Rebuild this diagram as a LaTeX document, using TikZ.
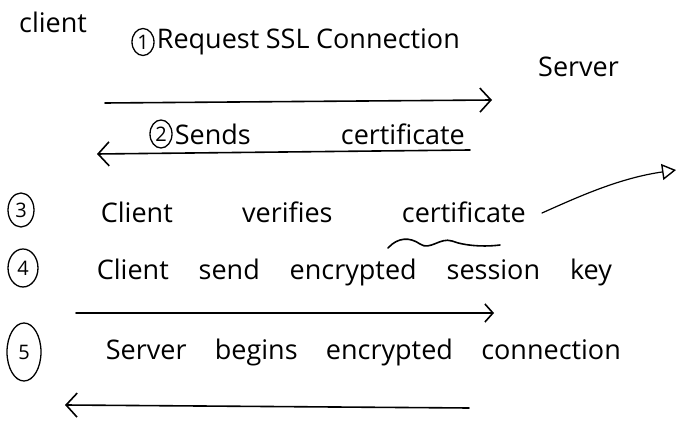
\documentclass[tikz,border=0pt]{standalone}
\usepackage{fontspec}
\setmainfont{Open Sans}
\usetikzlibrary{positioning}
\usetikzlibrary{arrows.meta}
\usetikzlibrary{shapes.geometric}

% spread the words of a step over a given width
\newcommand{\spread}[2]{\makebox[#1][s]{#2}}

\begin{document}
\begin{tikzpicture}
	[x=1pt,y=-1pt,
	num/.style={ellipse,draw=black,line width=1.3pt,inner sep=0pt,font=\fontsize{20}{22}\selectfont},
	words/.style={inner sep=0pt,anchor=west,font=\fontsize{27}{30}\selectfont},
	party/.style={inner sep=0pt,font=\fontsize{27}{30}\selectfont},
	link/.style={draw=black,line width=1.6pt,line cap=round},
	head/.style={-{Straight Barb[length=11pt,width=24pt,line width=1.6pt]}}]

	\useasboundingbox (0,0) rectangle (678,427);

	% Draw the two parties
	\draw node at (19,22) [party,anchor=west](client){client}
		node at (538,67) [party,anchor=west](server){Server};

	% Draw the step numbers
	\draw node at (143,42) [num,minimum width=22pt,minimum height=27pt](num1){1}
		node at (161,134) [num,minimum width=22pt,minimum height=28pt](num2){2}
		node at (21,210) [num,minimum width=26pt,minimum height=34pt](num3){3}
		node at (23,268) [num,minimum width=30pt,minimum height=38pt](num4){4}
		node at (24,352) [num,minimum width=34pt,minimum height=58pt](num5){5};

	% Draw the step texts
	\draw node [words,right=2pt of num1](step1){\spread{303pt}{Request SSL Connection}}
		node [words,right=2pt of num2](step2){\spread{290pt}{Sends certificate}}
		node [words,right=66pt of num3,yshift=-2pt](step3){\spread{425pt}{Client verifies certificate}}
		node [words,right=58pt of num4,yshift=-4pt](step4){\spread{515pt}{Client send encrypted session key}}
		node [words,right=64pt of num5](step5){\spread{515pt}{Server begins encrypted connection}};

	% Ends of the arrows
	\coordinate (a1) at (105,103);
	\coordinate (b1) at (492,100);
	\coordinate (a2) at (470,150);
	\coordinate (b2) at (97,154);
	\coordinate (a4) at (76,313);
	\coordinate (b4) at (494,313);
	\coordinate (a5) at (469,408);
	\coordinate (b5) at (65,405);
	\coordinate (c3) at (542,213);
	\coordinate (d3) at (676,170);

	% Draw the arrows between the parties
	\draw[link,head] (a1) -- (b1);
	\draw[link,head] (a2) -- (b2);
	\draw[link,-{Straight Barb[length=8pt,width=18pt,line width=1.6pt]}] (a4) -- (b4);
	\draw[link,head] (a5) -- (b5);

	% Draw the squiggle and the pointer of step 3
	\draw[link] (388,248) .. controls (398,237) and (410,237) .. (420,244)
		.. controls (430,251) and (440,237) .. (452,241)
		.. controls (465,246) and (485,247) .. (500,245);
	\draw[link,line width=1.2pt,-{Triangle[open,length=14pt,width=16pt,line width=1.4pt]}]
		(c3) .. controls (580,196) and (620,178) .. (d3);
\end{tikzpicture}
\end{document}
